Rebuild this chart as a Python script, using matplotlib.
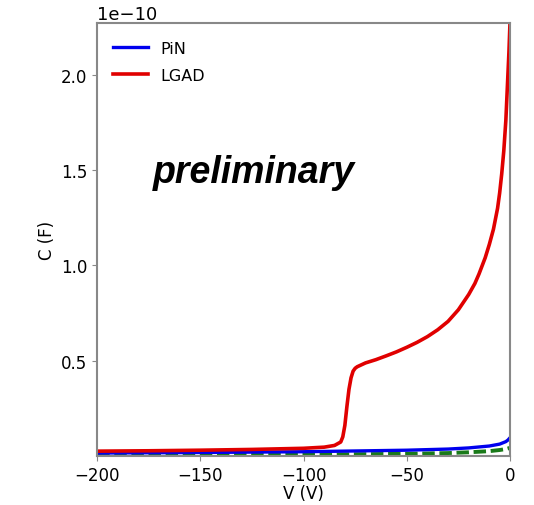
import numpy as np
import matplotlib
matplotlib.use("Agg")
import matplotlib.pyplot as plt

# C-V curves, capacitance in units of 1e-10 F
v_lgad = [-200, -175, -150, -125, -100, -90, -85, -82, -81, -80, -79, -78, -77,
          -76, -75, -74, -72, -70, -65, -60, -55, -50, -45, -40, -35, -30, -25,
          -20, -17, -15, -12, -10, -8, -6, -5, -4, -3, -2, -1, -0.5, 0]
c_lgad = [0.025, 0.027, 0.030, 0.034, 0.040, 0.046, 0.055, 0.073, 0.10, 0.16,
          0.26, 0.35, 0.41, 0.445, 0.46, 0.468, 0.478, 0.488, 0.505, 0.525, 0.546,
          0.570, 0.596, 0.626, 0.662, 0.706, 0.767, 0.847, 0.905, 0.955, 1.04,
          1.11, 1.19, 1.30, 1.38, 1.48, 1.60, 1.76, 2.00, 2.12, 2.27]

v_pin = [-200, -150, -100, -50, -30, -20, -10, -5, -2, -1, 0]
c_pin = [0.015, 0.018, 0.022, 0.030, 0.036, 0.042, 0.052, 0.062, 0.075, 0.083, 0.095]

v_ref = [-200, -150, -100, -50, -30, -20, -10, -5, -2, 0]
c_ref = [0.004, 0.005, 0.007, 0.011, 0.015, 0.019, 0.025, 0.031, 0.036, 0.042]

scale = 1e-10

fig = plt.figure(figsize=(5.34, 5.06), dpi=100)
ax = fig.add_axes([0.182, 0.097, 0.773, 0.856])

ax.plot(v_ref, np.array(c_ref) * scale, color="#1a7a1a", lw=2.8, dashes=(3.2, 1.2))
ax.plot(v_pin, np.array(c_pin) * scale, color="#0000ee", lw=2.4, label="PiN")
ax.plot(v_lgad, np.array(c_lgad) * scale, color="#e00000", lw=2.6, label="LGAD")

ax.set_xlim(-200, 0)
ax.set_ylim(0, 2.273e-10)
ax.set_xticks([-200, -150, -100, -50, 0])
ax.set_yticks([0.5e-10, 1.0e-10, 1.5e-10, 2.0e-10])
ax.tick_params(labelsize=12, color="#888888")
ax.yaxis.get_offset_text().set_fontsize(13)
for s in ax.spines.values():
    s.set_color("#888888")
    s.set_linewidth(1.5)

ax.set_xlabel("V (V)", fontsize=12, labelpad=0)
ax.set_ylabel("C (F)", fontsize=12)

ax.legend(loc="upper left", frameon=False, fontsize=11.5, handlelength=2.2,
          labelspacing=0.75, bbox_to_anchor=(0.003, 0.992))

ax.text(0.135, 0.633, "preliminary", transform=ax.transAxes, fontsize=27,
        fontweight="bold", fontstyle="italic", family="Liberation Sans",
        va="baseline")

fig.savefig("out.png", dpi=100)
